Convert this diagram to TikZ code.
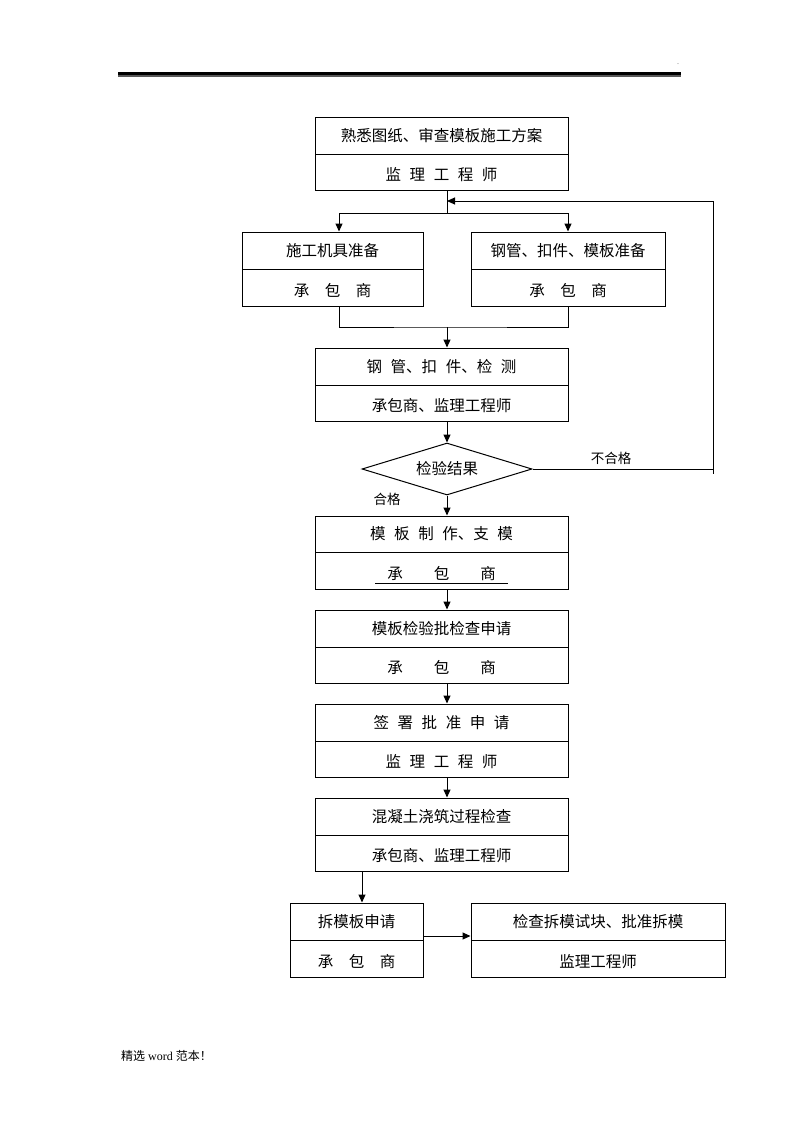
\documentclass[tikz,border=0pt]{standalone}
\usepackage{fontspec}
\setmainfont{Liberation Serif}
\newfontfamily\cjk{Noto Sans CJK SC}
\usetikzlibrary{shapes.geometric,arrows.meta,calc}
\newcommand\hs{\hspace{0.55em}}
\newcommand\fs{\hspace{1em}}
\newcommand\ffs{\hspace{2em}}
\begin{document}
\begin{tikzpicture}[x=1pt,y=-1pt,
  box/.style={draw, line width=1pt, inner sep=0pt, font=\cjk\fontsize{15.5}{18}\selectfont},
  lowbox/.style={box, text height=19pt, text depth=1.5pt},
  arr/.style={-{Triangle[length=8pt,width=7pt]}, line width=1pt},
  ln/.style={line width=1pt},
  lbl/.style={font=\cjk\fontsize{13.5}{16}\selectfont, inner sep=1pt}]
\useasboundingbox (0,0) rectangle (800,1132);
% header rule
\draw[line width=3.3pt] (118,73.7) -- (681,73.7);
\draw[line width=2pt, black!65] (118,76.3) -- (681,76.3);
\node[font=\fontsize{6}{6}\selectfont, inner sep=0pt] (dot) at (678,64) {.};
% boxes
\node[box, minimum width=253pt, minimum height=37pt] (b1t) at (441.5,135.5) {熟悉图纸、审查模板施工方案};
\node[lowbox, minimum width=253pt, minimum height=36pt] (b1b) at (441.5,172) {监\hs 理\hs 工\hs 程\hs 师};
\node[box, minimum width=181pt, minimum height=37pt] (b2lt) at (332.5,250.5) {施工机具准备};
\node[lowbox, minimum width=181pt, minimum height=37pt] (b2lb) at (332.5,287.5) {承\fs 包\fs 商};
\node[box, minimum width=194pt, minimum height=37pt] (b2rt) at (568,250.5) {钢管、扣件、模板准备};
\node[lowbox, minimum width=194pt, minimum height=37pt] (b2rb) at (568,287.5) {承\fs 包\fs 商};
\node[box, minimum width=253pt, minimum height=37pt] (b3t) at (441.5,366.5) {钢\hs 管、扣\hs 件、检\hs 测};
\node[lowbox, minimum width=253pt, minimum height=36pt] (b3b) at (441.5,403) {承包商、监理工程师};
\node[draw, line width=1pt, diamond, shape aspect=3.27, inner sep=0pt, minimum width=170pt, minimum height=52pt, font=\cjk\fontsize{15.5}{18}\selectfont] (d) at (447,469) {检验结果};
\node[box, minimum width=253pt, minimum height=36pt] (b4t) at (441.5,534) {模\hs 板\hs 制\hs 作、支\hs 模};
\node[lowbox, minimum width=253pt, minimum height=37pt] (b4b) at (441.5,570.5) {承\ffs 包\ffs 商};
\node[box, minimum width=253pt, minimum height=37pt] (b5t) at (441.5,628.5) {模板检验批检查申请};
\node[lowbox, minimum width=253pt, minimum height=36pt] (b5b) at (441.5,665) {承\ffs 包\ffs 商};
\node[box, minimum width=253pt, minimum height=37pt] (b6t) at (441.5,722.5) {签\hs 署\hs 批\hs 准\hs 申\hs 请};
\node[lowbox, minimum width=253pt, minimum height=36pt] (b6b) at (441.5,759) {监\hs 理\hs 工\hs 程\hs 师};
\node[box, minimum width=253pt, minimum height=37pt] (b7t) at (441.5,816.5) {混凝土浇筑过程检查};
\node[lowbox, minimum width=253pt, minimum height=36pt] (b7b) at (441.5,853) {承包商、监理工程师};
\node[box, minimum width=133pt, minimum height=37pt] (b8t) at (356.5,921.5) {拆模板申请};
\node[lowbox, minimum width=133pt, minimum height=37pt] (b8b) at (356.5,958.5) {承\fs 包\fs 商};
\node[box, minimum width=254pt, minimum height=37pt] (b9t) at (598,921.5) {检查拆模试块、批准拆模};
\node[lowbox, minimum width=254pt, minimum height=37pt] (b9b) at (598,958.5) {监理工程师};
% underline in b4b
\draw[ln] (375,583.5) -- (508,583.5);
% helper coordinates
\coordinate (sp) at (447,0);
\coordinate (aL) at (339,0);
\coordinate (aD) at (362,0);
\coordinate (j1) at (447,213);
\coordinate (j2) at (447,327);
\coordinate (fR) at (713,201);
\coordinate (fL) at (447,201);
\coordinate (hy) at (0,936);
% connectors
\draw[ln] (b1b.south -| sp) -- (j1);
\draw[arr] (j1) -| (b2lt.north -| aL);
\draw[arr] (j1) -| (b2rt.north);
\draw[ln] (b2lb.south -| aL) |- (j2) -| (b2rb.south);
\draw[arr] (j2) -- (b3t.north -| sp);
\draw[arr] (b3b.south -| sp) -- (d.north);
\draw[arr] (d.south) -- (b4t.north -| sp);
\draw[arr] (d.east) -- (d.east -| fR) -- (fR) -- (fL);
\draw[ln] (d.east -| fR) -- ++(0,5);
\draw[arr] (b4b.south -| sp) -- (b5t.north -| sp);
\draw[arr] (b5b.south -| sp) -- (b6t.north -| sp);
\draw[arr] (b6b.south -| sp) -- (b7t.north -| sp);
\draw[arr] (b7b.south -| aD) -- (b8t.north -| aD);
\draw[arr] (b8t.east |- hy) -- (b9t.west |- hy);
% labels
\node[lbl] (ng) at (611,458) {不合格};
\node[lbl] (ok) at (387,499) {合格};
% footer
\node[font=\fontsize{12}{14}\selectfont, anchor=west, inner sep=0pt] (ft) at (121,1056) {{\cjk 精选} word {\cjk 范本！}};
\end{tikzpicture}
\end{document}
